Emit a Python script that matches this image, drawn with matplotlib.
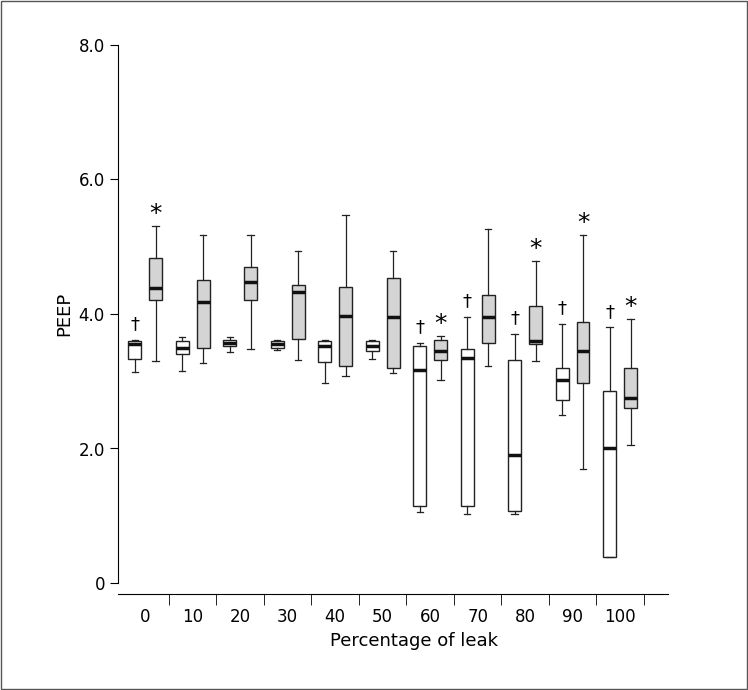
import matplotlib
matplotlib.use("Agg")
import matplotlib.pyplot as plt

cats = ["0","10","20","30","40","50","60","70","80","90","100"]
# white boxes: whislo, q1, med, q3, whishi
w_lo  = [3.13,3.15,3.43,3.47,2.98,3.33,1.05,1.02,1.02,2.50,0.38]
w_q1  = [3.33,3.40,3.52,3.50,3.28,3.45,1.15,1.15,1.07,2.72,0.38]
w_med = [3.55,3.50,3.57,3.55,3.52,3.52,3.17,3.35,1.90,3.02,2.00]
w_q3  = [3.60,3.60,3.62,3.60,3.60,3.60,3.52,3.48,3.32,3.20,2.85]
w_hi  = [3.62,3.65,3.65,3.62,3.62,3.62,3.57,3.95,3.70,3.85,3.80]
g_lo  = [3.30,3.27,3.48,3.32,3.08,3.12,3.02,3.22,3.30,1.70,2.05]
g_q1  = [4.20,3.50,4.20,3.63,3.22,3.20,3.32,3.57,3.55,2.98,2.60]
g_med = [4.38,4.18,4.48,4.33,3.97,3.95,3.45,3.95,3.60,3.45,2.75]
g_q3  = [4.83,4.50,4.70,4.43,4.40,4.53,3.62,4.28,4.12,3.88,3.20]
g_hi  = [5.30,5.17,5.17,4.93,5.47,4.93,3.67,5.27,4.78,5.18,3.93]
dagger = [True,False,False,False,False,False,True,True,True,True,True]
star   = [True,False,False,False,False,False,True,False,True,True,True]

fig = plt.figure(figsize=(7.48,6.9), dpi=100)
fig.patches.append(plt.Rectangle((0.002,0.002),0.996,0.996,transform=fig.transFigure,
                                 fill=False,edgecolor="#555555",lw=1))
ax = fig.add_axes([0.158,0.155,0.791,0.78])

def stats(lo,q1,md,q3,hi):
    return [dict(whislo=a,q1=b,med=c,q3=d,whishi=e,fliers=[]) for a,b,c,d,e in zip(lo,q1,md,q3,hi)]

pos = list(range(len(cats)))
common = dict(widths=0.27, patch_artist=True, showfliers=False,
              whiskerprops=dict(color="#222",lw=0.9), capprops=dict(color="#222",lw=0.9),
              medianprops=dict(color="#111",lw=2.5))
ax.bxp(stats(w_lo,w_q1,w_med,w_q3,w_hi), positions=[p-0.22 for p in pos],
       boxprops=dict(facecolor="white",edgecolor="#222",lw=1), **common)
ax.bxp(stats(g_lo,g_q1,g_med,g_q3,g_hi), positions=[p+0.22 for p in pos],
       boxprops=dict(facecolor="#d4d4d4",edgecolor="#222",lw=1), **common)
for p,d,s,wh,gh in zip(pos,dagger,star,w_hi,g_hi):
    if d: ax.text(p-0.22, wh+0.1, "†", ha="center", va="bottom", fontsize=13)
    if s: ax.text(p+0.22, gh+0.0, "*", ha="center", va="bottom", fontsize=18)

ax.set_xlim(-0.57, 11.89)
ax.set_ylim(0,8)
ax.set_yticks([0,2,4,6,8]); ax.set_yticklabels(["0","2.0","4.0","6.0","8.0"])
ax.set_xticks(pos); ax.set_xticklabels(cats)
ax.tick_params(axis="x", length=0, pad=10, labelsize=12)
ax.tick_params(axis="y", labelsize=12, length=6)
ax.set_xticks([p+0.5 for p in pos], minor=True)
ax.tick_params(axis="x", which="minor", length=8, direction="out")
for sp in ["top","right"]: ax.spines[sp].set_visible(False)
ax.spines["bottom"].set_position(("outward",8))
ax.spines["bottom"].set_bounds(-0.57, 11.0)
ax.set_ylabel("PEEP", fontsize=13)
ax.set_xlabel("Percentage of leak", fontsize=13)
fig.savefig("out.png", dpi=100)
